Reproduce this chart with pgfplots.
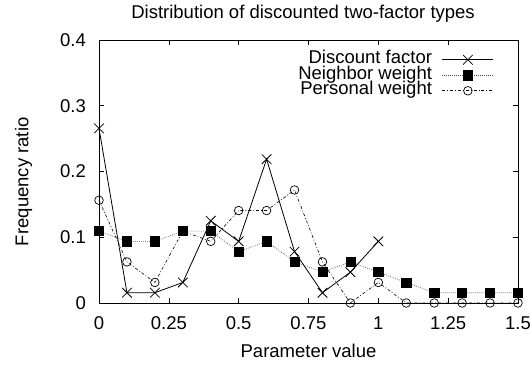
\documentclass[border=0pt]{standalone}
\usepackage{fontspec}
\setmainfont{Liberation Sans}
\usepackage{pgfplots}
\pgfplotsset{compat=1.18}
\begin{document}
\begin{tikzpicture}[font=\fontsize{18.5}{22}\selectfont]
\begin{axis}[
  at={(99pt,63pt)}, anchor=south west,
  scale only axis, width=419pt, height=263pt,
  xmin=0, xmax=1.5, ymin=0, ymax=0.4,
  clip=false,
  xtick={0,0.25,0.5,0.75,1,1.25,1.5},
  xticklabels={0,0.25,0.5,0.75,1,1.25,1.5},
  ytick={0,0.1,0.2,0.3,0.4},
  yticklabels={0,0.1,0.2,0.3,0.4},
  tick align=inside, major tick length=5pt,
  tick style={black, line width=0.6pt},
  axis line style={line width=0.8pt},
  xticklabel style={inner sep=0pt, anchor=base, yshift=-27pt},
  yticklabel style={inner sep=0pt, anchor=east, xshift=-13pt},
  every axis title shift=0pt,
  title={Distribution of discounted two-factor types},
  title style={at={(axis description cs:0.487,1.0825)}, anchor=base, inner sep=0pt, yshift=0pt},
  xlabel={Parameter value},
  xlabel style={at={(axis description cs:0.5,-0.2065)}, anchor=base, inner sep=0pt},
  ylabel={Frequency ratio},
  ylabel style={at={(axis description cs:-0.1687,0.461)}, anchor=base, inner sep=0pt},
  legend cell align=right,
  legend plot pos=right,
  legend style={at={(axis description cs:0.9427,0.955)}, anchor=north east,
    draw=none, fill=none, inner sep=0pt, row sep=0pt, column sep=0pt,
    nodes={inner sep=0pt, text height=11.75pt, text depth=3.75pt}},
  legend image code/.code={\path (0pt,0pt) (61pt,0pt);\draw[mark repeat=2,mark phase=2,#1] plot coordinates {(10pt,0pt) (35.5pt,0pt) (61pt,0pt)};},
]
\addplot[black, line width=0.8pt, mark=x, mark size=6.8pt, mark options={solid, line width=0.8pt}] coordinates {
(0,0.265625) (0.1,0.015625) (0.2,0.015625) (0.3,0.03125) (0.4,0.125) (0.5,0.09375)
(0.6,0.21875) (0.7,0.078125) (0.8,0.015625) (0.9,0.046875) (1.0,0.09375)};
\addlegendentry{Discount factor}
\addplot[black!70, line width=0.6pt, dash pattern=on 0.8pt off 1.2pt, mark=square*, mark size=4.6pt, mark options={solid, black}] coordinates {
(0,0.109375) (0.1,0.09375) (0.2,0.09375) (0.3,0.109375) (0.4,0.109375) (0.5,0.078125)
(0.6,0.09375) (0.7,0.0625) (0.8,0.046875) (0.9,0.0625) (1.0,0.046875) (1.1,0.03125)
(1.2,0.015625) (1.3,0.015625) (1.4,0.015625) (1.5,0.015625)};
\addlegendentry{Neighbor weight}
\addplot[black, line width=0.6pt, dash pattern=on 3pt off 2pt on 0.8pt off 2pt, mark=o, mark size=4.3pt, mark options={solid, line width=0.7pt}] coordinates {
(0,0.15625) (0.1,0.0625) (0.2,0.03125) (0.3,0.109375) (0.4,0.09375) (0.5,0.140625)
(0.6,0.140625) (0.7,0.171875) (0.8,0.0625) (0.9,0) (1.0,0.03125) (1.1,0)
(1.2,0) (1.3,0) (1.4,0) (1.5,0)};
\addlegendentry{Personal weight}
\end{axis}
\pgfresetboundingbox
\path[use as bounding box] (0pt,0pt) rectangle (531pt,366pt);
\end{tikzpicture}
\end{document}
